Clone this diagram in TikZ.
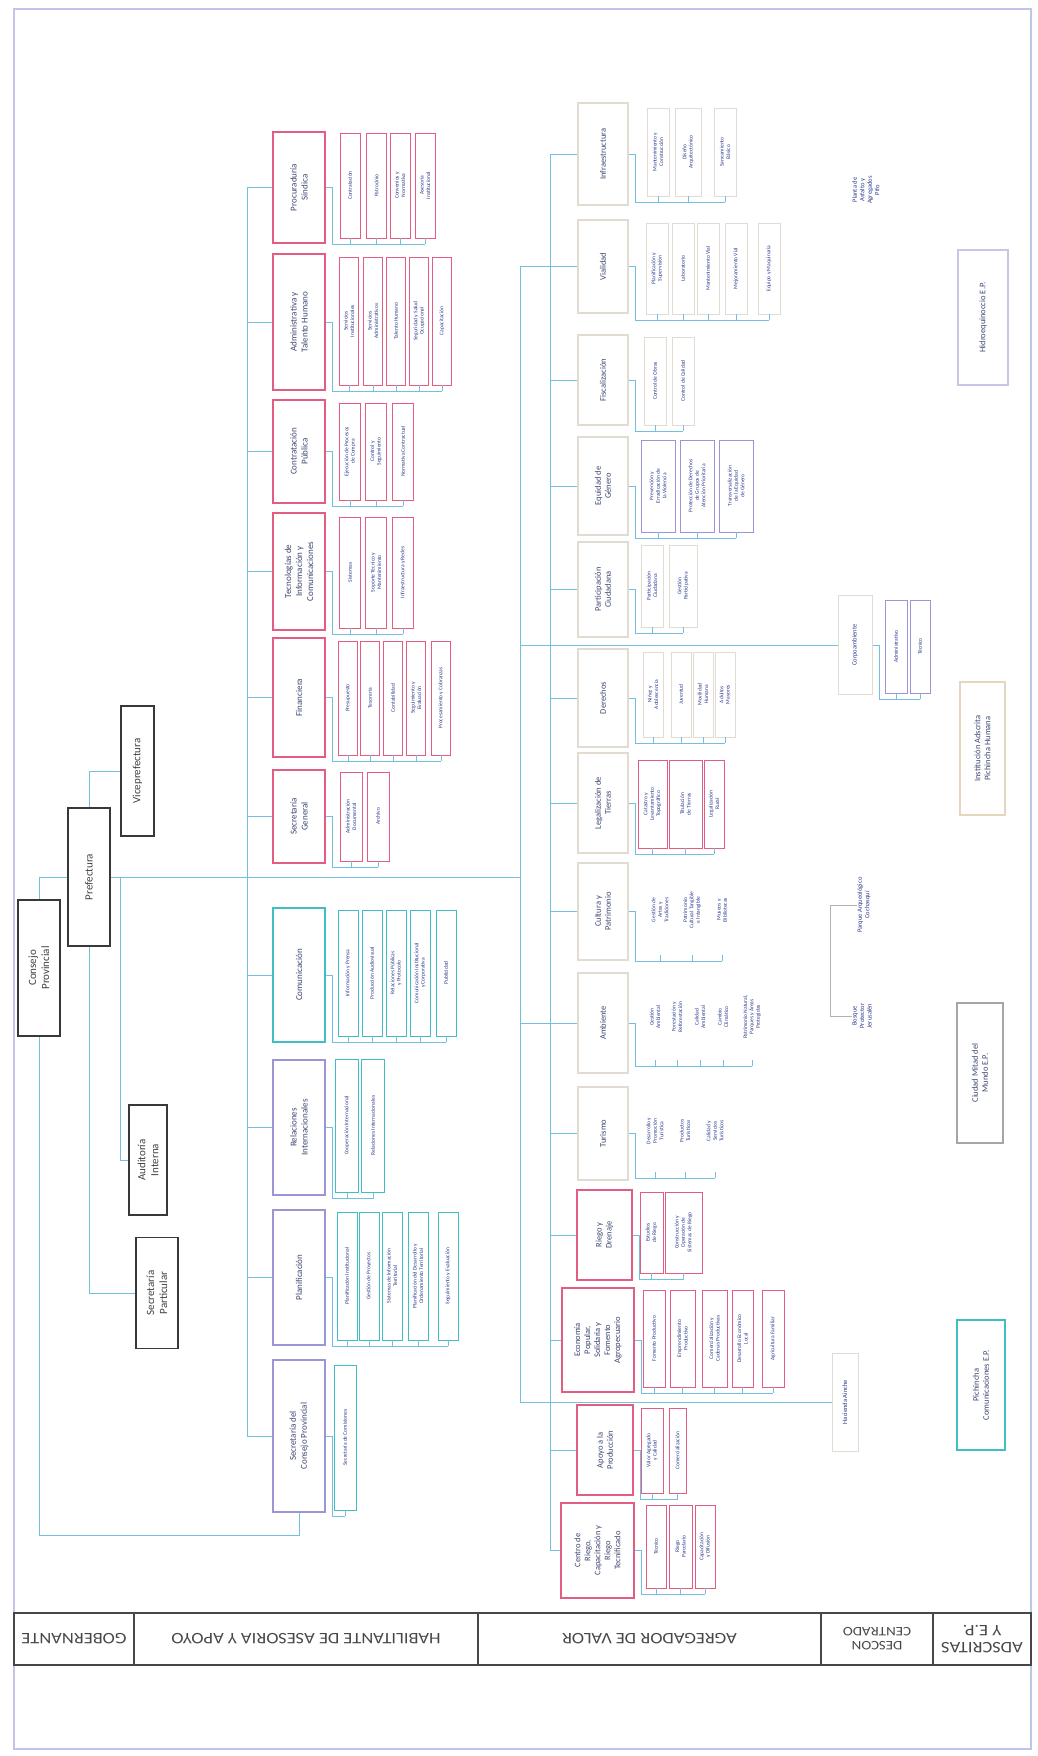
\documentclass[tikz,border=0pt]{standalone}
\usepackage{fontspec}
\setmainfont{Carlito}
\newfontfamily\bandFamily[FakeStretch=1.15]{Carlito}
\usetikzlibrary{calc, positioning}
\definecolor{lineBlue}{HTML}{72BFE0}
\definecolor{boxPink}{HTML}{E35D83}
\definecolor{boxTeal}{HTML}{3FBFC4}
\definecolor{boxLav}{HTML}{9A96D6}
\definecolor{boxPale}{HTML}{E2DBD2}
\definecolor{boxTan}{HTML}{E6D6BE}
\definecolor{subNavy}{HTML}{2B3A8C}
\definecolor{titleNavy}{HTML}{3A4670}
\definecolor{frameLav}{HTML}{C5C3E8}
\newcommand{\govFont}{\fontsize{11}{13}\selectfont}
\newcommand{\habFont}{\fontsize{9}{11}\selectfont}
\newcommand{\agrFont}{\fontsize{8.5}{10}\selectfont}
\newcommand{\subFont}{\fontsize{5.5}{6.4}\selectfont}
\newcommand{\noteFont}{\fontsize{6.5}{7.5}\selectfont}
\newcommand{\bandFont}{\bandFamily\fontsize{16}{17}\selectfont}
\tikzstyle{conn}=[draw=lineBlue, line width=1pt]
\tikzstyle{brk}=[draw=black!30, line width=0.6pt]
\tikzstyle{govBox}=[draw=black!78, line width=1.4pt, rotate=90, align=center, font=\govFont, text=black!75, inner sep=1pt]
\tikzstyle{mainBox}=[line width=1.1pt, rotate=90, align=center, font=\habFont, text=titleNavy, inner sep=1pt]
\tikzstyle{pinkBox}=[mainBox, draw=boxPink]
\tikzstyle{tealBox}=[mainBox, draw=boxTeal]
\tikzstyle{lavBox}=[mainBox, draw=boxLav]
\tikzstyle{paleBox}=[mainBox, draw=boxPale]
\tikzstyle{subBox}=[line width=0.6pt, rotate=90, align=center, font=\subFont, text=subNavy, inner sep=0.5pt]
\tikzstyle{subPink}=[subBox, draw=boxPink]
\tikzstyle{subTeal}=[subBox, draw=boxTeal]
\tikzstyle{subLav}=[subBox, draw=boxLav]
\tikzstyle{subPale}=[subBox, draw=boxPale]
\tikzstyle{subText}=[subBox]
\tikzstyle{noteText}=[subBox, font=\noteFont]
\tikzstyle{adsBox}=[mainBox, font=\agrFont]
\tikzstyle{bandCell}=[draw=black!72, line width=1.3pt, font=\bandFont, text=black!72, rotate=180, align=center, inner sep=1pt, minimum height=52]
% comb under a row of sub-units: parent, last sub, all subs
\newcommand{\combLine}[3]{%
  \draw[conn] (#1.south) -- ++(7,0) |- ($(#2.west)+(0,6)$);
  \foreach \s in {#3} \draw[conn] (\s.west) -- ++(0,6);}

\begin{document}
\begin{tikzpicture}[x=1pt, y=-1pt]
\useasboundingbox (0,0) rectangle (1037,1756);
\draw[frameLav, line width=2pt] (14,9) rectangle (1031,1749);

% gobernante
\node[govBox, minimum width=136, minimum height=42] (consejo) at (39,968) {Consejo\\Provincial};
\node[govBox, minimum width=138, minimum height=42] (prefectura) at (89,877) {Prefectura};
\node[govBox, minimum width=130, minimum height=33] (vice) at (137.5,771) {Viceprefectura};
\node[govBox, minimum width=110, minimum height=38] (auditoria) at (148,1160) {Auditoría\\Interna};
\node[govBox, minimum width=111, minimum height=42] (secpart) at (157,1293) {Secretaría\\Particular};

% habilitante de asesoria y apoyo
\node[pinkBox, minimum width=111, minimum height=52] (procuraduria) at (299,187.5) {Procuraduría\\Síndica};
\node[pinkBox, minimum width=136, minimum height=52] (administrativa) at (299,322) {Administrativa y\\Talento Humano};
\node[pinkBox, minimum width=103, minimum height=52] (contratacion) at (299,451.5) {Contratación\\Pública};
\node[pinkBox, minimum width=117, minimum height=52] (tecnologias) at (299,571.5) {Tecnologías de\\Información y\\Comunicaciones};
\node[pinkBox, minimum width=119, minimum height=52] (financiera) at (299,697.5) {Financiera};
\node[pinkBox, minimum width=93, minimum height=52] (secgeneral) at (299,816.5) {Secretaría\\General};
\node[tealBox, minimum width=134, minimum height=52] (comunicacion) at (299,975) {Comunicación};
\node[lavBox, minimum width=135, minimum height=52] (relaciones) at (299,1127.5) {Relaciones\\Internacionales};
\node[lavBox, minimum width=135, minimum height=52] (planificacion) at (299,1277.5) {Planificación};
\node[lavBox, minimum width=152, minimum height=52] (secconsejo) at (299,1436) {Secretaría del\\Consejo Provincial};

\foreach \n/\x/\t in {pr1/350/Contratación, pr2/376.5/Patrocinio, pr3/400/{Convenios y\\Normativa}, pr4/425/{Asesoría\\Institucional}}
  \node[subPink, minimum width=105, minimum height=20] (\n) at (\x,185.5) {\t};
\foreach \n/\x/\t in {ad1/349/{Servicios\\Institucionales}, ad2/373/{Servicios\\Administrativos}, ad3/396/{Talento Humano}, ad4/419/{Seguridad y Salud\\Ocupacional}, ad5/442/Capacitación}
  \node[subPink, minimum width=128, minimum height=19] (\n) at (\x,321) {\t};
\foreach \n/\x/\t in {co1/350/{Ejecución de Procesos\\de Compra}, co2/376/{Control y\\Seguimiento}, co3/403/{Normativa Contractual}}
  \node[subPink, minimum width=97, minimum height=21] (\n) at (\x,451.5) {\t};
\foreach \n/\x/\t in {te1/350/Sistemas, te2/376/{Soporte Técnico y\\Mantenimiento}, te3/403/{Infraestructura y Redes}}
  \node[subPink, minimum width=111, minimum height=21] (\n) at (\x,572.5) {\t};
\foreach \n/\x/\t in {fi1/348/Presupuesto, fi2/370/Tesorería, fi3/393/Contabilidad, fi4/416/{Seguimiento y\\Evaluación}, fi5/441/{Procesamiento y Cobranzas}}
  \node[subPink, minimum width=114, minimum height=19] (\n) at (\x,698) {\t};
\foreach \n/\x/\t in {sg1/351/{Administración\\Documental}, sg2/378/Archivo}
  \node[subPink, minimum width=89, minimum height=22] (\n) at (\x,816.5) {\t};
\foreach \n/\x/\t in {cm1/348/{Información y Prensa}, cm2/372/{Producción Audiovisual}, cm3/396/{Relaciones Públicas\\y Protocolo}, cm4/420/{Comunicación Institucional\\y Corporativa}, cm5/446/Publicidad}
  \node[subTeal, minimum width=126, minimum height=20] (\n) at (\x,973) {\t};
\foreach \n/\x/\t in {re1/347/{Cooperación Internacional}, re2/373/{Relaciones Internacionales}}
  \node[subTeal, line width=1pt, minimum width=133, minimum height=23] (\n) at (\x,1125.5) {\t};
\foreach \n/\x/\t in {pl1/347/{Planificación Institucional}, pl2/369/{Gestión de Proyectos}, pl3/392/{Sistemas de Información\\Territorial}, pl4/418/{Planificación del Desarrollo y\\Ordenamiento Territorial}, pl5/448/{Seguimiento y Evaluación}}
  \node[subTeal, minimum width=128, minimum height=20] (\n) at (\x,1276) {\t};
\node[subTeal, minimum width=145, minimum height=22] (sc1) at (345,1437.5) {Secretaría de Comisiones};

% agregador de valor
\node[paleBox, font=\agrFont, minimum width=102, minimum height=50] (infraestructura) at (603,154) {Infraestructura};
\node[paleBox, font=\agrFont, minimum width=93, minimum height=50] (vialidad) at (603,266.5) {Vialidad};
\node[paleBox, font=\agrFont, minimum width=90, minimum height=50] (fiscalizacion) at (603,380) {Fiscalización};
\node[paleBox, font=\agrFont, minimum width=98, minimum height=50] (equidad) at (603,486) {Equidad de\\Género};
\node[paleBox, font=\agrFont, minimum width=95, minimum height=50] (participacion) at (603,589.5) {Participación\\Ciudadana};
\node[paleBox, font=\agrFont, minimum width=98, minimum height=50] (derechos) at (603,698) {Derechos};
\node[paleBox, font=\agrFont, minimum width=100, minimum height=50] (legalizacion) at (603,803) {Legalización de\\Tierras};
\node[paleBox, font=\agrFont, minimum width=97, minimum height=50] (cultura) at (603,911.5) {Cultura y\\Patrimonio};
\node[paleBox, font=\agrFont, minimum width=100, minimum height=50] (ambiente) at (603,1023) {Ambiente};
\node[paleBox, font=\agrFont, minimum width=93, minimum height=50] (turismo) at (603,1133.5) {Turismo};
\node[pinkBox, font=\agrFont, minimum width=90, minimum height=55] (riego) at (604.5,1235) {Riego y\\Drenaje};
\node[pinkBox, font=\agrFont, minimum width=104, minimum height=72] (economia) at (598,1340) {Economía\\Popular,\\Solidaria y\\Fomento\\Agropecuario};
\node[pinkBox, font=\agrFont, minimum width=90, minimum height=56] (apoyo) at (605,1450) {Apoyo a la\\Producción};
\node[pinkBox, font=\agrFont, minimum width=95, minimum height=73] (centro) at (597.5,1550.5) {Centro de\\Riego,\\Capacitación y\\Riego\\Tecnificado};

\foreach \n/\x/\w/\t in {in1/658/22/{Mantenimiento y\\Construcción}, in2/688/26/{Diseño\\Arquitectónico}, in3/725/22/{Saneamiento\\Básico}}
  \node[subPale, minimum width=88, minimum height=\w] (\n) at (\x,152) {\t};
\foreach \n/\x/\t in {vi1/657/{Planificación y\\Supervisión}, vi2/683/Laboratorio, vi3/708/{Mantenimiento Vial}, vi4/736/{Mejoramiento Vial}, vi5/769/{Equipo y Maquinaria}}
  \node[subPale, minimum width=91, minimum height=22] (\n) at (\x,268.5) {\t};
\foreach \n/\x/\t in {fs1/655/{Control de Obras}, fs2/683/{Control de Calidad}}
  \node[subPale, minimum width=88, minimum height=22] (\n) at (\x,381) {\t};
\foreach \n/\x/\t in {eq1/658/{Prevención y\\Erradicación de\\la Violencia}, eq2/697/{Protección de Derechos\\de Grupos de\\Atención Prioritaria}, eq3/736/{Transversalización\\de la Equidad\\de Género}}
  \node[subLav, minimum width=92, minimum height=34] (\n) at (\x,486) {\t};
\foreach \n/\x/\w/\t in {pa1/652/22/{Participación\\Ciudadana}, pa2/683/28/{Gestión\\Participativa}}
  \node[subPale, minimum width=82, minimum height=\w] (\n) at (\x,586) {\t};
\foreach \n/\x/\t in {de1/653/{Niñez y\\Adolescencia}, de2/681/Juventud, de3/703/{Movilidad\\Humana}, de4/725/{Adultos\\Mayores}}
  \node[subPale, minimum width=85, minimum height=20] (\n) at (\x,694.5) {\t};
\foreach \n/\x/\w/\t in {lg1/652.5/29/{Catastro y\\Levantamiento\\Topográfico}, lg2/685.5/33/{Titulación\\de Tierras}, lg3/714/20/{Legalización\\Rural}}
  \node[subPink, minimum width=88, minimum height=\w] (\n) at (\x,804) {\t};
\foreach \n/\x/\t in {cu1/660/{Gestión de\\Artes y\\Tradiciones}, cu2/692/{Patrimonio\\Cultural Tangible\\e Intangible}, cu3/722/{Museos y\\Bibliotecas}}
  \node[subText, minimum width=90, minimum height=20] (\n) at (\x,910) {\t};
\foreach \n/\x/\t in {am1/655/{Gestión\\Ambiental}, am2/677/{Forestación y\\Reforestación}, am3/700/{Calidad\\Ambiental}, am4/723/{Cambio\\Climático}, am5/752/{Patrimonio Natural,\\Parques y Áreas\\Protegidas}}
  \node[subText, minimum width=86, minimum height=16] (\n) at (\x,1017) {\t};
\foreach \n/\x/\t in {tu1/655/{Desarrollo y\\Promoción\\Turística}, tu2/685/{Productos\\Turísticos}, tu3/715/{Calidad y\\Servicios\\Turísticos}}
  \node[subText, minimum width=82, minimum height=20] (\n) at (\x,1131) {\t};
\foreach \n/\x/\w/\t in {ri1/651.5/23/{Estudios\\de Riego}, ri2/683.5/37/{Construcción y\\Operación de\\Sistemas de Riego}}
  \node[subPink, minimum width=81, minimum height=\w] (\n) at (\x,1232.5) {\t};
\foreach \n/\x/\w/\t in {ec1/654/22/{Fomento Productivo}, ec2/682.5/25/{Emprendimiento\\Productivo}, ec3/714.5/25/{Comercialización y\\Cadenas Productivas}, ec4/742.5/21/{Desarrollo Económico\\Local}, ec5/773/22/{Agricultura Familiar}}
  \node[subPink, minimum width=97, minimum height=\w] (\n) at (\x,1338.5) {\t};
\foreach \n/\x/\w/\t in {ap1/652/22/{Valor Agregado\\y Calidad}, ap2/677.5/17/Comercialización}
  \node[subPink, minimum width=85, minimum height=\w] (\n) at (\x,1450.5) {\t};
\foreach \n/\x/\w/\t in {ce1/656/20/Técnico, ce2/680.5/23/{Riego\\Parcelario}, ce3/705/20/{Capacitación\\y Difusión}}
  \node[subPink, minimum width=83, minimum height=\w] (\n) at (\x,1546.5) {\t};

% descentralizado
\node[subPale, font=\noteFont, line width=1pt, minimum width=99, minimum height=34] (corp) at (855,645) {Corpoambiente};
\foreach \n/\x/\w/\t in {cp1/896/22/Administrativo, cp2/920/20/Técnico}
  \node[subLav, minimum width=93, minimum height=\w] (\n) at (\x,646.5) {\t};
\node[noteText] (planta) at (866,190) {Planta de\\Asfalto y\\Agregados\\Pifo};
\node[noteText] (parque) at (864,905) {Parque Arqueológico\\Cochasquí};
\node[noteText] (bosque) at (862,1016) {Bosque\\Protector\\Jerusalén};
\node[subPale, font=\noteFont, line width=1pt, minimum width=98, minimum height=26] (hacienda) at (845,1402) {Hacienda Ainche};

% adscritas y e.p.
\node[adsBox, draw=boxLav!55, minimum width=135, minimum height=50] (hidro) at (983,317.5) {Hidroequinoccio E.P.};
\node[adsBox, draw=boxTan, minimum width=133, minimum height=45] (institucion) at (982.5,748.5) {Institución Adscrita\\Pichincha Humana};
\node[adsBox, draw=black!35, minimum width=140, minimum height=46] (ciudad) at (980,1073) {Ciudad Mitad del\\Mundo E.P.};
\node[adsBox, draw=boxTeal, line width=1.4pt, minimum width=130, minimum height=48] (pichincha) at (981,1385) {Pichincha\\Comunicaciones E.P.};

% connectors
\coordinate (habX) at (247,0);
\coordinate (agrX) at (520,0);
\coordinate (innX) at (550,0);
\coordinate (audX) at (120,877);
\coordinate (loopY) at (0,1535);
\coordinate (brkX) at (830,0);

\draw[conn] (consejo.east) |- (prefectura.north);
\draw[conn] (prefectura.east) |- (vice.north);
\draw[conn] (prefectura.south) -- (agrX |- prefectura.south);
\draw[conn] (audX) |- (auditoria.north);
\draw[conn] (prefectura.west) |- (secpart.north);
\draw[conn] (consejo.west) -- (consejo.west |- loopY) -| (secconsejo.west);

\draw[conn] (habX |- procuraduria.north) -- (habX |- secconsejo.north);
\foreach \b in {procuraduria, administrativa, contratacion, tecnologias, financiera, secgeneral, comunicacion, relaciones, planificacion, secconsejo}
  \draw[conn] (habX |- \b.north) -- (\b.north);

\draw[conn] (agrX |- vialidad.north) -- (agrX |- hacienda.north) -- (hacienda.north);
\draw[conn] (innX |- infraestructura.north) -- (innX |- centro.north);
\foreach \b in {vialidad, ambiente, corp}
  \draw[conn] (agrX |- \b.north) -- (\b.north);
\foreach \b in {infraestructura, fiscalizacion, equidad, participacion, derechos, legalizacion, cultura, turismo, riego, economia, apoyo, centro}
  \draw[conn] (innX |- \b.north) -- (\b.north);
\draw[brk] (parque.north) -| (brkX |- bosque.north) -- (bosque.north);

\combLine{procuraduria}{pr4}{pr1,pr2,pr3,pr4}
\combLine{administrativa}{ad5}{ad1,ad2,ad3,ad4,ad5}
\combLine{contratacion}{co3}{co1,co2,co3}
\combLine{tecnologias}{te3}{te1,te2,te3}
\combLine{financiera}{fi5}{fi1,fi2,fi3,fi4,fi5}
\combLine{secgeneral}{sg2}{sg1,sg2}
\combLine{comunicacion}{cm5}{cm1,cm2,cm3,cm4,cm5}
\combLine{relaciones}{re2}{re1,re2}
\combLine{planificacion}{pl5}{pl1,pl2,pl3,pl4,pl5}
\combLine{secconsejo}{sc1}{sc1}
\combLine{infraestructura}{in3}{in1,in2,in3}
\combLine{vialidad}{vi5}{vi1,vi2,vi3,vi4,vi5}
\combLine{fiscalizacion}{fs2}{fs1,fs2}
\combLine{equidad}{eq3}{eq1,eq2,eq3}
\combLine{participacion}{pa2}{pa1,pa2}
\combLine{derechos}{de4}{de1,de2,de3,de4}
\combLine{legalizacion}{lg3}{lg1,lg2,lg3}
\combLine{cultura}{cu3}{cu1,cu2,cu3}
\combLine{ambiente}{am5}{am1,am2,am3,am4,am5}
\combLine{turismo}{tu3}{tu1,tu2,tu3}
\combLine{riego}{ri2}{ri1,ri2}
\combLine{economia}{ec5}{ec1,ec2,ec3,ec4,ec5}
\combLine{apoyo}{ap2}{ap1,ap2}
\combLine{centro}{ce3}{ce1,ce2,ce3}
\combLine{corp}{cp2}{cp1,cp2}

% process levels
\node[bandCell, minimum width=120] (bandGob) at (74,1639) {GOBERNANTE};
\node[bandCell, minimum width=344] (bandHab) at (306,1639) {HABILITANTE DE ASESORIA Y APOYO};
\node[bandCell, minimum width=343] (bandAgr) at (649.5,1639) {AGREGADOR DE VALOR};
\node[bandCell, font=\bandFamily\fontsize{13}{14}\selectfont, minimum width=112] (bandDesc) at (877,1639) {DESCON\\CENTRADO};
\node[bandCell, minimum width=98] (bandAds) at (982,1639) {ADSCRITAS\\Y E.P.};
\end{tikzpicture}
\end{document}
